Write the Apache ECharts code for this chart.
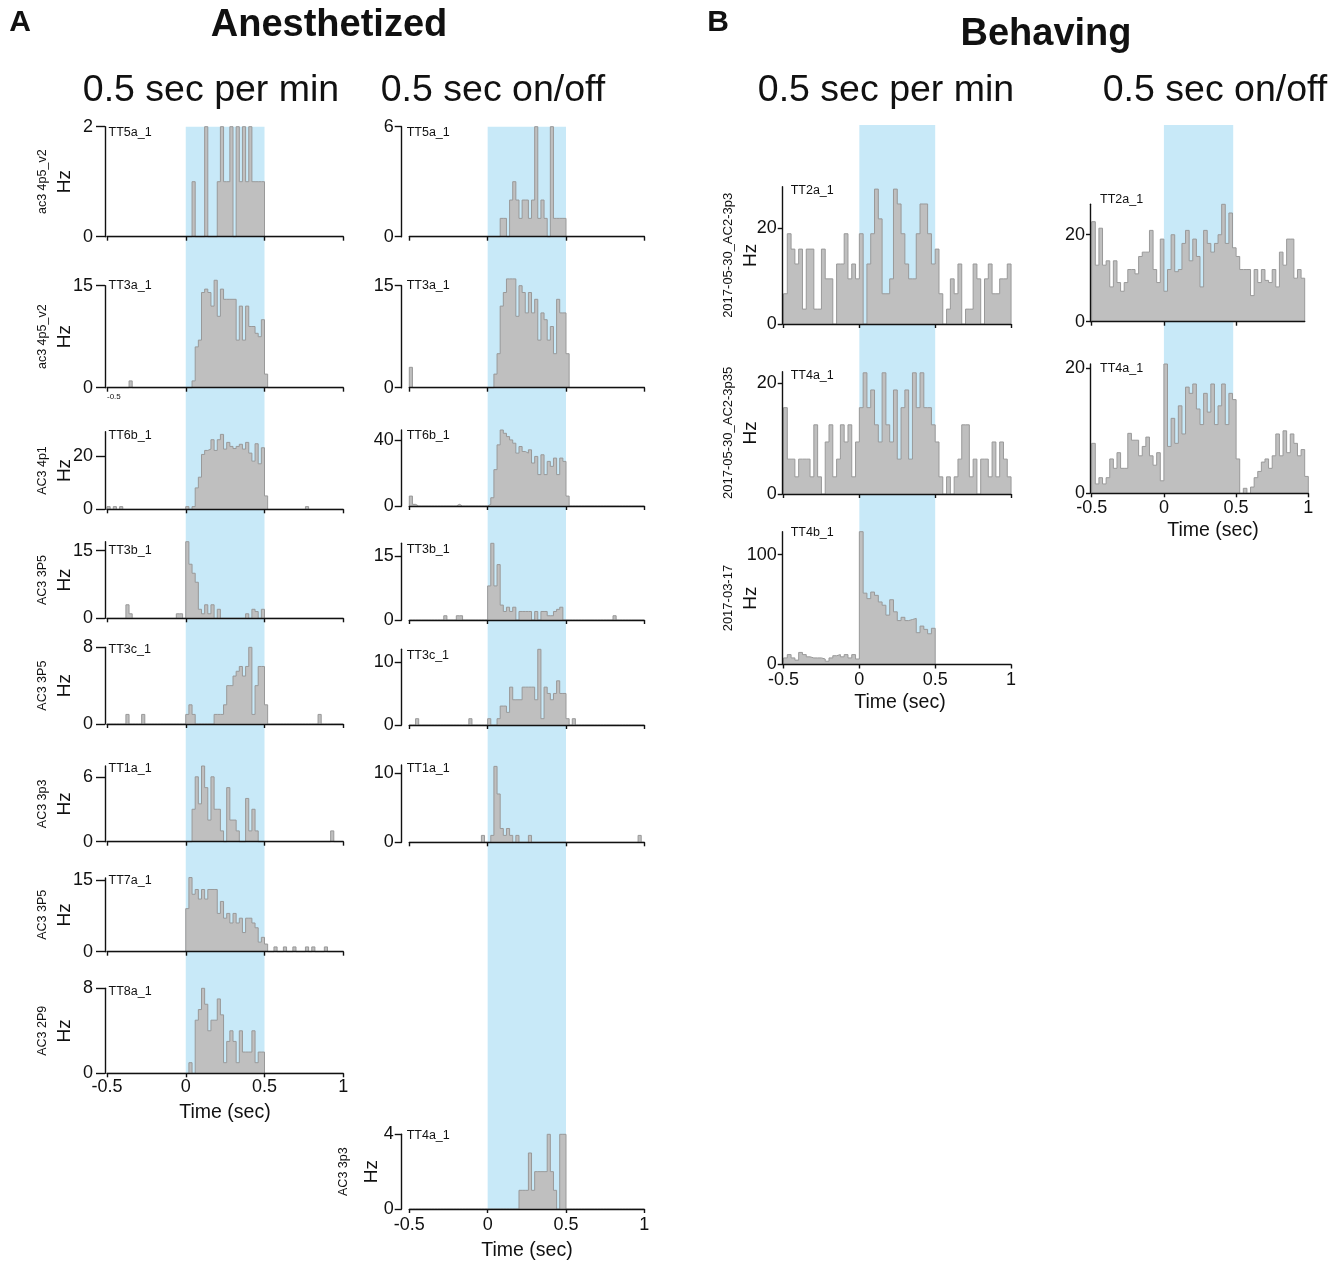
<!DOCTYPE html>
<html><head><meta charset="utf-8">
<script src="https://cdn.jsdelivr.net/npm/echarts@6/dist/echarts.min.js"></script>
<style>html,body{margin:0;padding:0;background:#fff}#chart{width:1344px;height:1264px}</style>
</head><body><div id="chart"></div>
<script>
// ---------------- DATA ----------------
// time tick labels (sec) and stimulus windows
const timeTicks = [-0.5, 0, 0.5, 1];
const stimWindow = [0, 0.5];
const stimWindowBR = [0, 0.48];
// histogram bins: start edge (sec) and width (sec)
const binsA = [-0.5, 0.02];
const binsB = [-0.5, 0.025];

// Panel A, "0.5 sec per min" (Hz per 20 ms bin, -0.5 .. 1 s)
const aMin_TT5a_1 = [0,0,0,0,0, 0,0,0,0,0, 0,0,0,0,0, 0,0,0,0,0, 0,0,0,0,0,
  0,0,1,0,0, 0,2,0,0,0, 1,2,1,1,2, 0,2,1,2,1, 2,1,1,1,1,
  0,0,0,0,0, 0,0,0,0,0, 0,0,0,0,0, 0,0,0,0,0, 0,0,0,0,0];
const aMin_TT3a_1 = [0,0,0,0,0, 0,0,1,0,0, 0,0,0,0,0, 0,0,0,0,0, 0,0,0,0,0,
  0,0,1,6,7, 14,14.5,14,12,15.8, 10.5,14.5,13,13,13, 13,7,12,7,12, 9,9,8,7.5,10,
  2,0,0,0,0, 0,0,0,0,0, 0,0,0,0,0, 0,0,0,0,0, 0,0,0,0,0];
const aMin_TT6b_1 = [1,0,1,0,1, 0,0,0,0,0, 0,0,0,0,0, 0,0,0,0,0, 0,0,0,0,0,
  1,0,1,8,12, 20.5,22,22.5,26,22, 26,28,22.5,25,23.5, 22.7,23.5,24.3,22.5,25, 21,18,24.5,17,23,
  5,0,0,0,0, 0,0,0,0,0, 0,0,0,1,0, 0,0,0,0,0, 0,0,0,0,0];
const aMin_TT3b_1 = [0,0,0,0,0, 0,3,1,0,0, 0,0,0,0,0, 0,0,0,0,0, 0,0,1,1,0,
  17,12,10,8,2, 1,3,1,3,0, 2,0,0,0,0, 0,0,0,0,1, 0,2,1.5,0,2,
  0,0,0,0,0, 0,0,0,0,0, 0,0,0,0,0, 0,0,0,0,0, 0,0,0,0,0];
const aMin_TT3c_1 = [0,0,0,0,0, 0,1,0,0,0, 0,1,0,0,0, 0,0,0,0,0, 0,0,0,0,0,
  1,2,1,0,0, 0,0,0,0,1, 1,1,2,4,4, 5,5.5,6,5,6, 8,1,4,6,6,
  2,0,0,0,0, 0,0,0,0,0, 0,0,0,0,0, 0,0,1,0,0, 0,0,0,0,0];
const aMin_TT1a_1 = [0,0,0,0,0, 0,0,0,0,0, 0,0,0,0,0, 0,0,0,0,0, 0,0,0,0,0,
  0,0,3,6,3.5, 7,5,2,6,3, 3,1,0,5,2, 2,1,0,0,4, 1,3,1,0,0,
  0,0,0,0,0, 0,0,0,0,0, 0,0,0,0,0, 0,0,0,0,0, 0,1,0,0,0];
const aMin_TT7a_1 = [0,0,0,0,0, 0,0,0,0,0, 0,0,0,0,0, 0,0,0,0,0, 0,0,0,0,0,
  9,15.5,12,13,11, 13,11,13,13,13, 8,10.5,7,8,6, 8,6,7,4,7, 7,6,5,2,3,
  1.6,0,0,1,0, 0,1,0,0,1, 0,0,0,1,0, 1,0,0,0,1, 0,0,0,0,0];
const aMin_TT8a_1 = [0,0,0,0,0, 0,0,0,0,0, 0,0,0,0,0, 0,0,0,0,0, 0,0,0,0,0,
  0,1,0,5,6, 8,6.5,4,5,5, 7,5.5,1,3,4, 3,1,4,2,2, 2,4,1,2,2,
  0,0,0,0,0, 0,0,0,0,0, 0,0,0,0,0, 0,0,0,0,0, 0,0,0,0,0];

// Panel A, "0.5 sec on/off"
const aOn_TT5a_1 = [0,0,0,0,0, 0,0,0,0,0, 0,0,0,0,0, 0,0,0,0,0, 0,0,0,0,0,
  0,0,0,0,1, 1,0,2,3,2, 1,2,2,1,2, 6,1,2,1,0, 6,1,1,1,1,
  0,0,0,0,0, 0,0,0,0,0, 0,0,0,0,0, 0,0,0,0,0, 0,0,0,0,0];
const aOn_TT3a_1 = [3,0,0,0,0, 0,0,0,0,0, 0,0,0,0,0, 0,0,0,0,0, 0,0,0,0,0,
  0,0,2,5,12, 14,16,16,16,10.5, 15,14,11,14,11, 13,7,11,10,7, 9,5,13,11,11,
  5,0,0,0,0, 0,0,0,0,0, 0,0,0,0,0, 0,0,0,0,0, 0,0,0,0,0];
const aOn_TT6b_1 = [6,1,0,0,0, 0,0,0,0,0, 0,0,0,0,0, 1,0,0,0,0, 0,0,0,0,0,
  1,5,22,37,46, 44,42,40,38,32, 36,33,32,34,26, 30,19,31,19,27, 24,29,19,29,27,
  6,0,0,0,0, 0,0,0,0,0, 0,0,0,0,0, 0,0,0,0,0, 0,0,0,0,0];
const aOn_TT3b_1 = [0,0,0,0,0, 0,0,0,0,0, 0,1,0,0,0, 1,1,0,0,0, 0,0,0,0,0,
  8,18,8,13,3.5, 2,3,2,3,0, 2,2,2,2,0, 2,0,2,2,1, 1,2,2.5,3,0,
  0,0,0,0,0, 0,0,0,0,0, 0,0,0,0,0, 1,0,0,0,0, 0,0,0,0,0];
const aOn_TT3c_1 = [0,0,1,0,0, 0,0,0,0,0, 0,0,0,0,0, 0,0,0,0,1, 0,0,0,0,0,
  1,0,0,1,3, 3,2,6,4,4, 4,6,6,6,6, 4,12,1,6,5, 4,5,7,5,5,
  1,0,1,0,0, 0,0,0,0,0, 0,0,0,0,0, 0,0,0,0,0, 0,0,0,0,0];
const aOn_TT1a_1 = [0,0,0,0,0, 0,0,0,0,0, 0,0,0,0,0, 0,0,0,0,0, 0,0,0,1,0,
  0,1,11,7,2, 1,2,1,0,1, 0,0,0,1,0, 0,0,0,0,0, 0,0,0,0,0,
  0,0,0,0,0, 0,0,0,0,0, 0,0,0,0,0, 0,0,0,0,0, 0,0,0,1,0];
const aOn_TT4a_1 = [0,0,0,0,0, 0,0,0,0,0, 0,0,0,0,0, 0,0,0,0,0, 0,0,0,0,0,
  0,0,0,0,0, 0,0,0,0,0, 1,1,1,3,1, 2,2,2,2,4, 2,1,0,4,4,
  0,0,0,0,0, 0,0,0,0,0, 0,0,0,0,0, 0,0,0,0,0, 0,0,0,0,0];

// Panel B, "0.5 sec per min" (25 ms bins, -0.5 .. 1 s)
const bMin_TT2a_1 = [6.3,18.8,15.6,12.5,15.6, 3.1,15.6,15.6,3.1,3.1, 15.6,9.4,9.4,0,12.5, 12.5,18.8,9.4,12.5,9.4,
  18.8,0,12.5,18.8,28.1, 21.9,6.3,6.3,9.4,28.1, 25,18.8,12.5,9.4,9.4, 18.8,25,25,18.8,12.5,
  15.6,6.3,0,3.1,9.4, 6.3,12.5,0,3.1,3.1, 12.5,9.4,0,9.4,12.5, 6.3,6.3,9.4,9.4,12.5];
const bMin_TT4a_1 = [15.6,6.3,6.3,3.1,6.3, 6.3,6.3,3.1,12.5,3.1, 0,9.4,12.5,3.1,6.3, 12.5,9.4,12.5,3.1,9.4,
  15.6,21.9,15.6,18.8,12.5, 9.4,21.9,12.5,9.4,18.8, 6.3,15.6,18.8,6.3,21.9, 15.6,21.9,15.6,15.6,12.5,
  9.4,3.1,0,3.1,0, 3.1,6.3,12.5,12.5,3.1, 6.3,0,6.3,6.3,3.1, 9.4,3.1,9.4,6.3,3.1];
const bMin_TT4b_1 = [6,9,6,4,11, 9,7,6,6,6, 5,3,6,8,9, 7,9,6,9,5,
  121,65,60,66,63, 57,54,45,59,48, 40,43,40,41,42, 29,35,32,28,33,
  0,0,0,0,0, 0,0,0,0,0, 0,0,0,0,0, 0,0,0,0,0];

// Panel B, "0.5 sec on/off" (25 ms bins from -0.5 s)
const bOn_TT2a_1 = [23,13,21.5,13,14, 8,14,9,7,9, 12,12,11,15,16, 16,21,12,9,19,
  7,12,20,11.5,12, 18,21,14,19,15, 8,21,18,16,18, 20,27,18,25,17,
  15,12,12,12,6, 12,9,12,9.5,9, 12,8,16,13,19, 19,10,12,10];
const bOn_TT4a_1 = [8,1.5,2.5,1.5,2.5, 5.5,4,6.5,4,4, 9.6,8.5,8.5,6,7.5, 9,6,4.5,6.5,2,
  20.7,7.5,12,8,14, 9.5,17,16,17.5,13.5, 11,16,13,17.5,11, 14,17.5,11,16,15,
  5.5,0,0.8,0,1, 2.5,3.5,5,5.5,4, 6,9.5,6,10,6.5, 9.5,8,6,7,2.7];

// ---------------- LAYOUT ----------------
const FONT = '"Liberation Sans", Arial, Helvetica, sans-serif';
const BAND = '#c8e9f8';
const AXC = '#111';
const TICKFONT = 18;
const cols = {
  AL: {x0:107, pps:157.5, yAxisX:105, xMin:-0.5, xMax:1, tickLen:9, labMargin:12, xLabMargin:5, band:stimWindow, bandTop:126.7, bandBottom:1073.3, ttX:108.5, sessX:43, hzX:65, sessSize:12.5},
  AR: {x0:409.3, pps:156.7, yAxisX:401.7, xMin:-0.5, xMax:1, tickLen:7, labMargin:8, xLabMargin:7, band:stimWindow, bandTop:126.7, bandBottom:1209, ttX:406.7, sessX:344, hzX:372, sessSize:12.5},
  BL: {x0:783.5, pps:151.7, yAxisX:782.7, xMin:-0.5, xMax:1, tickLen:5, labMargin:6, xLabMargin:7, band:stimWindow, bandTop:125, bandBottom:664.5, ttX:790.7, sessX:728, hzX:751, sessSize:13},
  BR: {x0:1091.7, pps:144.4, yAxisX:1090, xMin:-0.5, xMax:1, tickLen:4, labMargin:5, xLabMargin:6, band:stimWindowBR, bandTop:125, bandBottom:493.3, ttX:1100, sessSize:13}
};
const panels = [
  {col:'AL', tt:'TT5a_1', sess:'ac3 4p5_v2', hz:true, data:aMin_TT5a_1, bins:binsA, top:126.7, bottom:236.7, ymax:2, yt:[0,2], ttY:133},
  {col:'AL', tt:'TT3a_1', sess:'ac3 4p5_v2', hz:true, data:aMin_TT3a_1, bins:binsA, top:285.7, bottom:387.7, ymax:15, yt:[0,15], ttY:286, tinyLabel:true},
  {col:'AL', tt:'TT6b_1', sess:'AC3 4p1', hz:true, data:aMin_TT6b_1, bins:binsA, top:431.7, bottom:509.3, ymax:29, yt:[0,20], ttY:436},
  {col:'AL', tt:'TT3b_1', sess:'AC3 3P5', hz:true, data:aMin_TT3b_1, bins:binsA, top:541.7, bottom:618.3, ymax:17, yt:[0,15], ttY:551},
  {col:'AL', tt:'TT3c_1', sess:'AC3 3P5', hz:true, data:aMin_TT3c_1, bins:binsA, top:647.3, bottom:724, ymax:8, yt:[0,8], ttY:650},
  {col:'AL', tt:'TT1a_1', sess:'AC3 3p3', hz:true, data:aMin_TT1a_1, bins:binsA, top:766, bottom:841.7, ymax:7, yt:[0,6], ttY:769},
  {col:'AL', tt:'TT7a_1', sess:'AC3 3P5', hz:true, data:aMin_TT7a_1, bins:binsA, top:878, bottom:951.7, ymax:15.4, yt:[0,15], ttY:881},
  {col:'AL', tt:'TT8a_1', sess:'AC3 2P9', hz:true, data:aMin_TT8a_1, bins:binsA, top:988.3, bottom:1073.3, ymax:8, yt:[0,8], ttY:992, xlabels:true, xname:[225,1113]},

  {col:'AR', tt:'TT5a_1', data:aOn_TT5a_1, bins:binsA, top:126.7, bottom:236.7, ymax:6, yt:[0,6], ttY:133},
  {col:'AR', tt:'TT3a_1', data:aOn_TT3a_1, bins:binsA, top:285.7, bottom:387.7, ymax:15, yt:[0,15], ttY:286},
  {col:'AR', tt:'TT6b_1', data:aOn_TT6b_1, bins:binsA, top:430, bottom:506, ymax:46, yt:[0,40], ttY:436},
  {col:'AR', tt:'TT3b_1', data:aOn_TT3b_1, bins:binsA, top:543.3, bottom:620, ymax:18, yt:[0,15], ttY:550},
  {col:'AR', tt:'TT3c_1', data:aOn_TT3c_1, bins:binsA, top:649.3, bottom:725, ymax:12, yt:[0,10], ttY:656},
  {col:'AR', tt:'TT1a_1', data:aOn_TT1a_1, bins:binsA, top:765, bottom:842.3, ymax:11.2, yt:[0,10], ttY:769},
  {col:'AR', tt:'TT4a_1', sess:'AC3 3p3', hz:true, data:aOn_TT4a_1, bins:binsA, top:1134.3, bottom:1209, ymax:4, yt:[0,4], ttY:1136, xlabels:true, xname:[527,1251]},

  {col:'BL', tt:'TT2a_1', sess:'2017-05-30_AC2-3p3', hz:true, data:bMin_TT2a_1, bins:binsB, top:186.7, bottom:324, ymax:28.6, yt:[0,20], ttY:190.7},
  {col:'BL', tt:'TT4a_1', sess:'2017-05-30_AC2-3p35', hz:true, data:bMin_TT4a_1, bins:binsB, top:371.7, bottom:494, ymax:22.1, yt:[0,20], ttY:376},
  {col:'BL', tt:'TT4b_1', sess:'2017-03-17', hz:true, data:bMin_TT4b_1, bins:binsB, top:531.7, bottom:664.5, ymax:121, yt:[0,100], ttY:533, xlabels:true, xname:[900,703]},

  {col:'BR', tt:'TT2a_1', data:bOn_TT2a_1, bins:binsB, top:204.3, bottom:321.7, ymax:27, yt:[0,20], ttY:200, xMax:0.975},
  {col:'BR', tt:'TT4a_1', data:bOn_TT4a_1, bins:binsB, top:364, bottom:493.3, ymax:20.7, yt:[0,20], ttY:368.3, xlabels:true, xname:[1213,531]}
];

function stairs(vals, bins) {
  const start = bins[0], w = bins[1];
  const pts = [[start, 0]];
  vals.forEach((v, i) => pts.push([start + i * w, v]));
  const end = start + vals.length * w;
  pts.push([end, vals[vals.length - 1]]);
  pts.push([end, 0]);
  return pts;
}
function txt(x, y, text, size, o) {
  o = o || {};
  return {type:'text', x:x, y:y, rotation:o.rot || 0, z:10,
    style:{text:text, fill:'#111', font:(o.bold ? 'bold ' : '') + size + 'px ' + FONT,
      align:o.align || 'center', verticalAlign:'middle', textAlign:o.align || 'center', textVerticalAlign:'middle'}};
}

const grids = [], xAxes = [], yAxes = [], series = [], graphics = [];
const lineStyle = {color:AXC, width:1.4};

// stimulus bands (one per column, behind the panels)
Object.keys(cols).forEach(k => {
  const c = cols[k];
  const gi = grids.length;
  grids.push({left:c.x0, top:c.bandTop, width:c.pps * (c.xMax - c.xMin), height:c.bandBottom - c.bandTop});
  xAxes.push({type:'value', gridIndex:gi, min:c.xMin, max:c.xMax, show:false});
  yAxes.push({type:'value', gridIndex:gi, min:0, max:1, show:false});
  series.push({type:'line', xAxisIndex:gi, yAxisIndex:gi, data:[[c.xMin, 0]], symbol:'none', silent:true, z:0,
    lineStyle:{opacity:0},
    markArea:{silent:true, z:1, itemStyle:{color:BAND}, data:[[{xAxis:c.band[0]}, {xAxis:c.band[1]}]]}});
});

panels.forEach(p => {
  const c = cols[p.col];
  const gi = grids.length;
  const xMax = p.xMax !== undefined ? p.xMax : c.xMax;
  grids.push({left:c.x0, top:p.top, width:c.pps * (xMax - c.xMin), height:p.bottom - p.top});
  let xLabel = {show:false};
  if (p.xlabels) xLabel = {show:true, customValues:timeTicks, fontSize:TICKFONT, color:AXC, margin:c.xLabMargin, fontFamily:FONT};
  else if (p.tinyLabel) xLabel = {show:true, customValues:[timeTicks[0]], fontSize:8, color:AXC, margin:5, fontFamily:FONT, align:'left'};
  xAxes.push({type:'value', gridIndex:gi, min:c.xMin, max:xMax, z:5,
    axisLine:{show:true, onZero:false, lineStyle:lineStyle},
    axisTick:{show:true, customValues:timeTicks, length:4, lineStyle:lineStyle},
    axisLabel:xLabel, splitLine:{show:false}});
  yAxes.push({type:'value', gridIndex:gi, min:0, max:p.ymax, offset:c.x0 - c.yAxisX, z:5,
    axisLine:{show:true, onZero:false, lineStyle:lineStyle},
    axisTick:{show:true, customValues:p.yt, length:c.tickLen, lineStyle:lineStyle},
    axisLabel:{show:true, customValues:p.yt, fontSize:TICKFONT, color:AXC, margin:c.labMargin, fontFamily:FONT},
    splitLine:{show:false}});
  series.push({type:'line', xAxisIndex:gi, yAxisIndex:gi, step:'end', symbol:'none', clip:false, silent:true, z:2,
    data:stairs(p.data, p.bins),
    lineStyle:{color:'#999999', width:1},
    areaStyle:{color:'#bfbfbf', opacity:1}});
  const midY = (p.top + p.bottom) / 2;
  graphics.push(txt(c.ttX, p.ttY, p.tt, 12.5, {align:'left'}));
  if (p.hz) graphics.push(txt(c.hzX, midY, 'Hz', 19, {rot:Math.PI / 2}));
  if (p.sess) graphics.push(txt(c.sessX, midY, p.sess, c.sessSize, {rot:Math.PI / 2}));
  if (p.xname) graphics.push(txt(p.xname[0], p.xname[1], 'Time (sec)', 19.5));
});

// titles
graphics.push(txt(20, 23, 'A', 30, {bold:true}));
graphics.push(txt(329, 26, 'Anesthetized', 38, {bold:true}));
graphics.push(txt(211, 91, '0.5 sec per min', 37.5));
graphics.push(txt(493, 91, '0.5 sec on/off', 37.5));
graphics.push(txt(718, 23, 'B', 30, {bold:true}));
graphics.push(txt(1046, 35, 'Behaving', 38, {bold:true}));
graphics.push(txt(886, 91, '0.5 sec per min', 37.5));
graphics.push(txt(1215, 91, '0.5 sec on/off', 37.5));

const chart = echarts.init(document.getElementById('chart'), null, {renderer:'canvas', width:1344, height:1264});
chart.setOption({
  animation:false,
  backgroundColor:'#ffffff',
  textStyle:{fontFamily:FONT},
  grid:grids, xAxis:xAxes, yAxis:yAxes, series:series, graphic:graphics
});
</script>
</body></html>
